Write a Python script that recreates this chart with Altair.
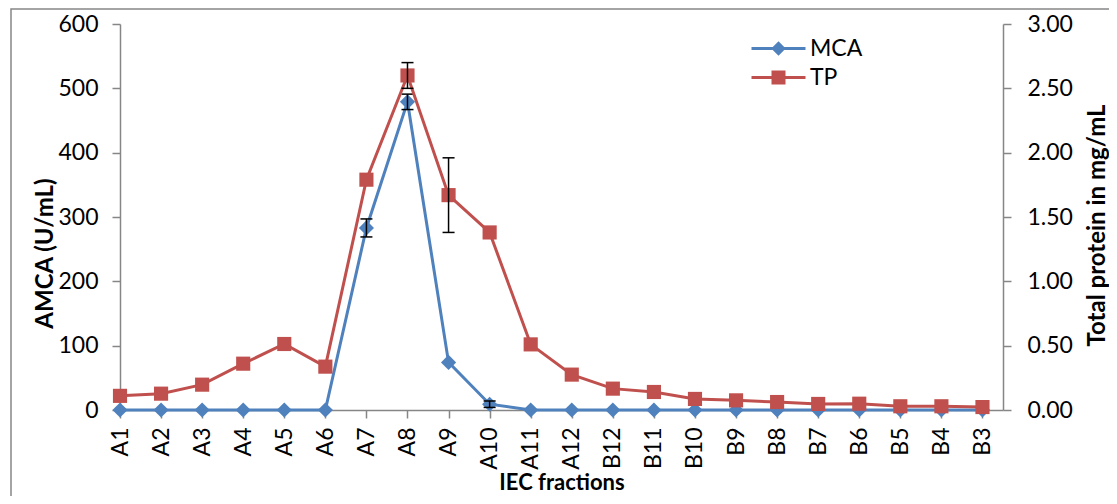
import json
import altair as alt
import pandas as pd

# ---------------- data ----------------
fractions = ["A1", "A2", "A3", "A4", "A5", "A6", "A7", "A8", "A9", "A10", "A11", "A12",
             "B12", "B11", "B10", "B9", "B8", "B7", "B6", "B5", "B4", "B3"]
mca = [0, 0, 0, 0, 0, 0, 283, 479, 74, 9, 0, 0,
       0, 0, 0, 0, 0, 0, 0, 0, 0, 0]
mca_err = [0, 0, 0, 0, 0, 0, 14, 12, 0, 5, 0, 0,
           0, 0, 0, 0, 0, 0, 0, 0, 0, 0]
tp = [0.11, 0.127, 0.197, 0.36, 0.513, 0.337, 1.79, 2.60, 1.67, 1.38, 0.51, 0.275,
      0.166, 0.14, 0.086, 0.075, 0.062, 0.047, 0.049, 0.029, 0.029, 0.023]
tp_err = [0, 0, 0, 0, 0, 0, 0, 0.10, 0.29, 0, 0, 0,
          0, 0, 0, 0, 0, 0, 0, 0, 0, 0]
series = ["MCA", "TP"]
colors = ["#4F81BD", "#C0504D"]
left_ticks = [0, 100, 200, 300, 400, 500, 600]
right_ticks = [0, 0.5, 1.0, 1.5, 2.0, 2.5, 3.0]

df = pd.DataFrame({
    "idx": list(range(len(fractions))),
    "fraction": fractions,
    "mca": mca,
    "mca_err": mca_err,
    "tp": tp,
    "tp_err": tp_err,
})
legend_df = pd.DataFrame({"series": series})

FONT = "Lato"
AXIS_COLOR = "#868686"

# legend symbols: line + marker, as custom paths
legend_paths = [
    "M-2.7,-0.15H-0.5V0.15H-2.7Z M0.5,-0.15H2.7V0.15H0.5Z M0,-0.72L0.72,0L0,0.72L-0.72,0Z",
    "M-2.7,-0.15H-0.6V0.15H-2.7Z M0.6,-0.15H2.7V0.15H0.6Z M-0.7,-0.7H0.7V0.7H-0.7Z",
]

# ---------------- encodings ----------------
x_enc = alt.X(
    "idx:Q",
    scale=alt.Scale(domain=[0, len(fractions) - 0.5], nice=False, zero=False),
    axis=alt.Axis(
        values=list(range(len(fractions))),
        labelExpr=f"{json.dumps(fractions)}[datum.value]",
        labelAngle=270,
        labelFlush=False,
        labelOverlap=False,
        labelPadding=9,
        tickSize=8,
        title="IEC fractions",
        titleY=72,
        titleFontSize=22,
        titleBaseline="middle",
        grid=False,
    ),
)

left_scale = alt.Scale(domain=[0, 600], nice=False, zero=True)
left_axis = alt.Axis(
    values=left_ticks,
    tickSize=8,
    labelPadding=14,
    title="AMCA (U/mL)",
    titleAngle=270,
    titleX=-75,
    titleY=229,
    titleAlign="center",
    titleBaseline="middle",
    grid=False,
)

right_scale = alt.Scale(domain=[0, 3], nice=False, zero=True)
right_axis = alt.Axis(
    orient="right",
    values=right_ticks,
    format=".2f",
    tickSize=8,
    labelPadding=16,
    title="Total protein in mg/mL",
    titleAngle=270,
    titleX=94,
    titleY=201,
    titleAlign="center",
    titleBaseline="middle",
    grid=False,
)

base = alt.Chart(df)

# ---------------- MCA (left axis) ----------------
mca_line = base.mark_line(color=colors[0], strokeWidth=3).encode(
    x=x_enc, y=alt.Y("mca:Q", scale=left_scale, axis=left_axis)
)
mca_pts = base.mark_point(shape="diamond", filled=True, size=230, opacity=1,
                          color=colors[0]).encode(
    x=x_enc, y=alt.Y("mca:Q", scale=left_scale, axis=left_axis)
)
mca_eb_base = base.transform_filter("datum.mca_err > 0").transform_calculate(
    lo="datum.mca - datum.mca_err", hi="datum.mca + datum.mca_err"
)
mca_rule = mca_eb_base.mark_rule(color="black", strokeWidth=1.5).encode(
    x=x_enc, y=alt.Y("lo:Q", scale=left_scale, axis=left_axis), y2="hi:Q"
)
mca_cap_lo = mca_eb_base.mark_tick(orient="horizontal", size=12, thickness=1.5,
                                   color="black", opacity=1).encode(
    x=x_enc, y=alt.Y("lo:Q", scale=left_scale, axis=left_axis)
)
mca_cap_hi = mca_eb_base.mark_tick(orient="horizontal", size=12, thickness=1.5,
                                   color="black", opacity=1).encode(
    x=x_enc, y=alt.Y("hi:Q", scale=left_scale, axis=left_axis)
)

legend_def = alt.Legend(
    title=None,
    orient="none",
    legendX=647,
    legendY=13,
    padding=0,
    labelFont=FONT,
    labelFontSize=23,
    labelColor="black",
    labelOffset=20,
    symbolSize=400,
    symbolStrokeWidth=0,
    rowPadding=5,
)
legend_carrier = alt.Chart(legend_df).mark_point(
    filled=True, opacity=1, size=400, strokeWidth=0
).encode(
    x=alt.value(0),
    y=alt.value(0),
    color=alt.Color("series:N", scale=alt.Scale(domain=series, range=colors), legend=legend_def),
    shape=alt.Shape("series:N", scale=alt.Scale(domain=series, range=legend_paths), legend=legend_def),
).transform_filter("false")

frame = alt.Chart(legend_df).mark_rect(
    fill=None, stroke=AXIS_COLOR, strokeWidth=1.5
).encode(
    x=alt.value(-109), x2=alt.value(1000), y=alt.value(-15), y2=alt.value(480)
).transform_filter("datum.series == 'MCA'")

left_layer = alt.layer(frame, mca_line, mca_pts, mca_rule, mca_cap_lo, mca_cap_hi, legend_carrier)

# ---------------- TP (right axis) ----------------
tp_line = base.mark_line(color=colors[1], strokeWidth=3).encode(
    x=x_enc, y=alt.Y("tp:Q", scale=right_scale, axis=right_axis)
)
tp_pts = base.mark_point(shape="square", filled=True, size=200, opacity=1,
                         color=colors[1]).encode(
    x=x_enc, y=alt.Y("tp:Q", scale=right_scale, axis=right_axis)
)
tp_eb_base = base.transform_filter("datum.tp_err > 0").transform_calculate(
    lo="datum.tp - datum.tp_err", hi="datum.tp + datum.tp_err"
)
tp_rule = tp_eb_base.mark_rule(color="black", strokeWidth=1.5).encode(
    x=x_enc, y=alt.Y("lo:Q", scale=right_scale, axis=right_axis), y2="hi:Q"
)
tp_cap_lo = tp_eb_base.mark_tick(orient="horizontal", size=12, thickness=1.5,
                                 color="black", opacity=1).encode(
    x=x_enc, y=alt.Y("lo:Q", scale=right_scale, axis=right_axis)
)
tp_cap_hi = tp_eb_base.mark_tick(orient="horizontal", size=12, thickness=1.5,
                                 color="black", opacity=1).encode(
    x=x_enc, y=alt.Y("hi:Q", scale=right_scale, axis=right_axis)
)
right_layer = alt.layer(tp_line, tp_pts, tp_rule, tp_cap_lo, tp_cap_hi)

chart = alt.layer(left_layer, right_layer).resolve_scale(
    y="independent"
).properties(
    width=883,
    height=386,
    background="white",
    autosize=alt.AutoSizeParams(type="none"),
    padding={"left": 112, "top": 16, "right": 106, "bottom": 86},
).configure_view(
    stroke=None
).configure_axis(
    labelFont=FONT,
    labelFontSize=23,
    labelColor="black",
    titleFont=FONT,
    titleFontSize=24,
    titleFontWeight="bold",
    titleColor="black",
    domainColor=AXIS_COLOR,
    domainWidth=1.5,
    tickColor=AXIS_COLOR,
    tickWidth=1.5,
)

chart.save("out.html", embed_options={"renderer": "svg", "actions": False})
